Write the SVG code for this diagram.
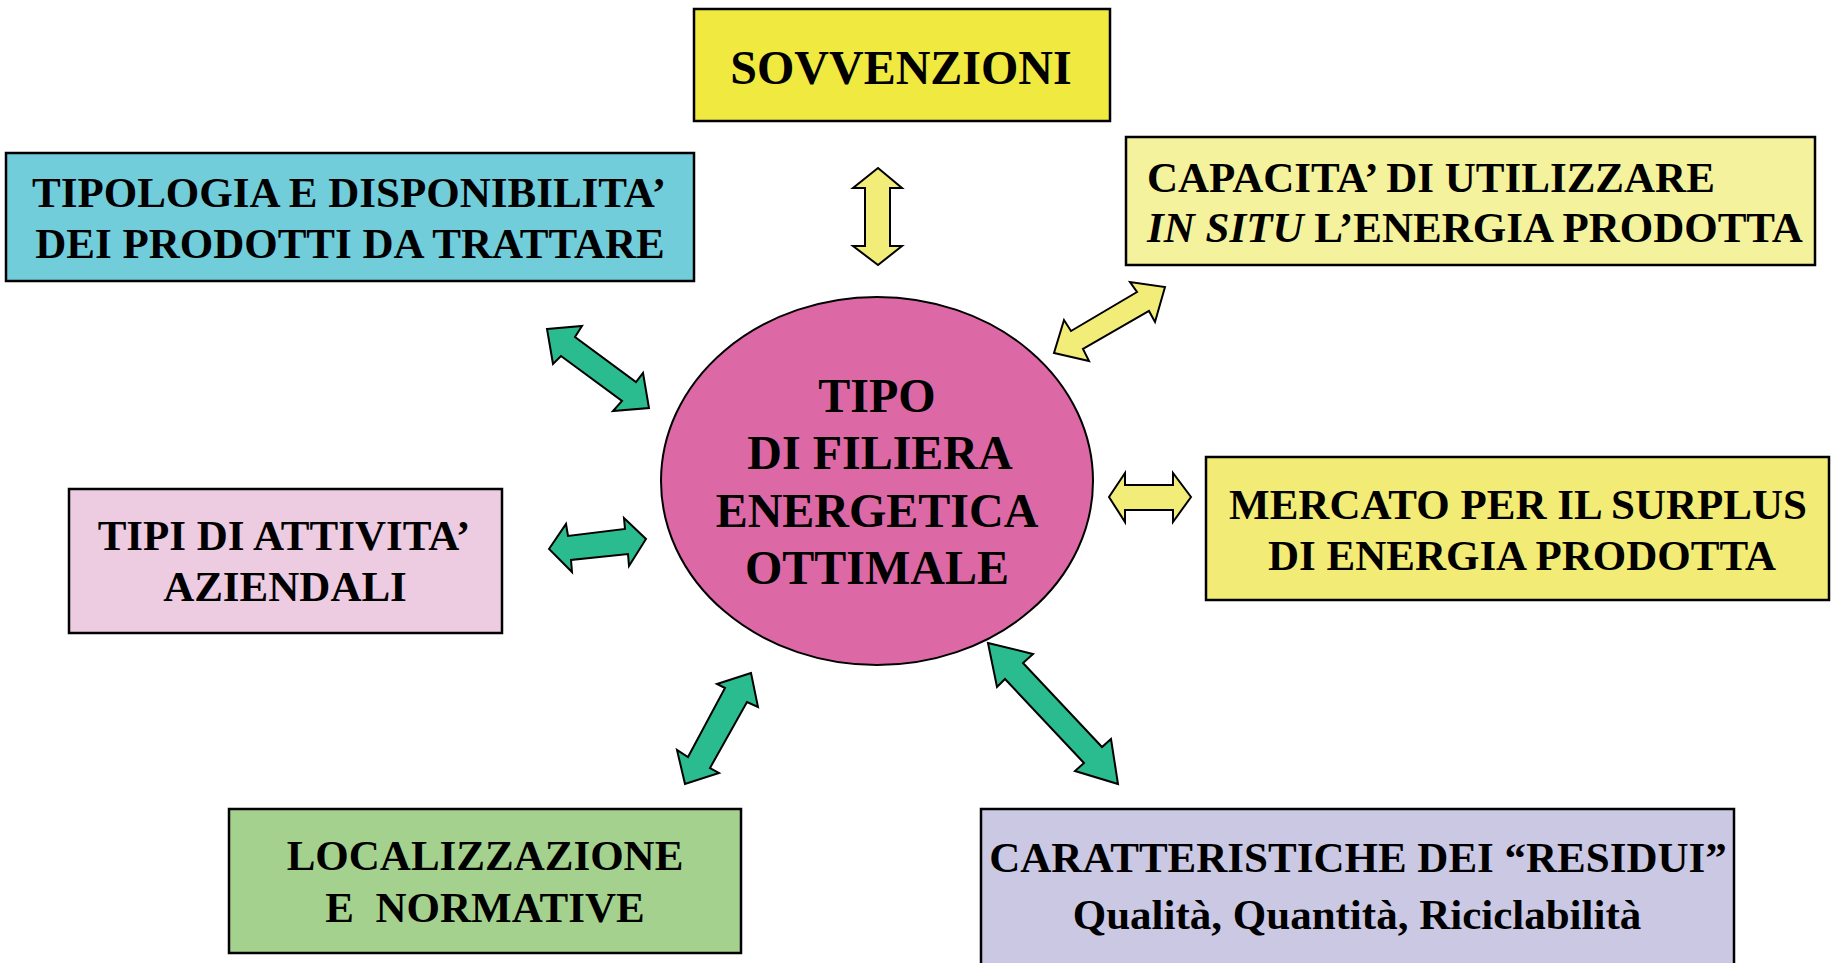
<svg xmlns="http://www.w3.org/2000/svg" width="1834" height="963" viewBox="0 0 1834 963">
<style>
  .box { stroke: #000; stroke-width: 2.5; }
  .t { font-family: "Liberation Serif", "Times New Roman", serif; font-weight: bold; font-size: 43px; fill: #000; }
  .c { text-anchor: middle; }
  .big { font-size: 48px; }
  .g { fill: #2ABB8F; stroke: #000; stroke-width: 2; stroke-linejoin: miter; }
  .y { fill: #F2ED78; stroke: #000; stroke-width: 2; stroke-linejoin: miter; }
</style>
<rect width="1834" height="963" fill="#FFFFFF"/>

<g id="sovvenzioni">
  <rect class="box" x="694" y="9" width="416" height="112" fill="#EFE940"/>
  <text class="t c big" x="901" y="84">SOVVENZIONI</text>
</g>

<g id="tipologia">
  <rect class="box" x="6" y="153" width="688" height="128" fill="#72CDDB"/>
  <text class="t c" x="349" y="207">TIPOLOGIA E DISPONIBILITA’</text>
  <text class="t c" x="350" y="258">DEI PRODOTTI DA TRATTARE</text>
</g>

<g id="capacita">
  <rect class="box" x="1126" y="137" width="689" height="128" fill="#F4F29D"/>
  <text class="t" x="1147" y="192">CAPACITA’ DI UTILIZZARE</text>
  <text class="t" x="1147" y="242"><tspan font-style="italic">IN SITU</tspan> L’ENERGIA PRODOTTA</text>
</g>

<g id="mercato">
  <rect class="box" x="1206" y="457" width="623" height="143" fill="#F2EC76"/>
  <text class="t c" x="1518" y="519">MERCATO PER IL SURPLUS</text>
  <text class="t c" x="1522" y="570">DI ENERGIA PRODOTTA</text>
</g>

<g id="tipi-attivita">
  <rect class="box" x="69" y="489" width="433" height="144" fill="#EDCBE1"/>
  <text class="t c" x="284" y="550">TIPI DI ATTIVITA’</text>
  <text class="t c" x="285" y="601">AZIENDALI</text>
</g>

<g id="localizzazione">
  <rect class="box" x="229" y="809" width="512" height="144" fill="#A5D18F"/>
  <text class="t c" x="485" y="870">LOCALIZZAZIONE</text>
  <text class="t c" x="485" y="922" xml:space="preserve">E  NORMATIVE</text>
</g>

<g id="caratteristiche">
  <rect class="box" x="981" y="809" width="753" height="170" fill="#CBC8E4"/>
  <text class="t c" x="1358" y="872">CARATTERISTICHE DEI “RESIDUI”</text>
  <text class="t c" x="1357" y="929">Qualità, Quantità, Riciclabilità</text>
</g>

<g id="filiera">
  <ellipse cx="877" cy="481" rx="216" ry="184" fill="#DC69A6" stroke="#000" stroke-width="2"/>
  <text class="t c big" x="877" y="412">TIPO</text>
  <text class="t c big" x="880" y="469">DI FILIERA</text>
  <text class="t c big" x="877" y="527">ENERGETICA</text>
  <text class="t c big" x="877" y="584">OTTIMALE</text>
</g>

<g id="connectors">
  <polygon class="y" points="878,168 902,188 890,188 890,246 902,246 878,265 853,246 865,246 865,188 853,188"/>
  <polygon class="y" points="1165,287 1155,322 1149,311 1083,349 1089,361 1054,353 1064,320 1071,331 1137,292 1130,282"/>
  <polygon class="y" points="1109,497 1125,473 1125,485 1173,485 1173,473 1191,497 1173,522 1173,510 1125,510 1125,522"/>
  <polygon class="g" points="547,329 582,326 575,337 636,382 643,373 649,408 613,411 622,401 561,356 553,364"/>
  <polygon class="g" points="549,549 566,524 568,536 625,529 624,518 646,539 629,566 628,554 571,560 572,572"/>
  <polygon class="g" points="751,673 717,684 725,688 688,757 677,750 685,784 719,773 710,768 747,702 758,707"/>
  <polygon class="g" points="988,643 1033,654 1023,663 1102,747 1111,739 1118,784 1075,771 1084,763 1005,679 997,687"/>
</g>
</svg>
